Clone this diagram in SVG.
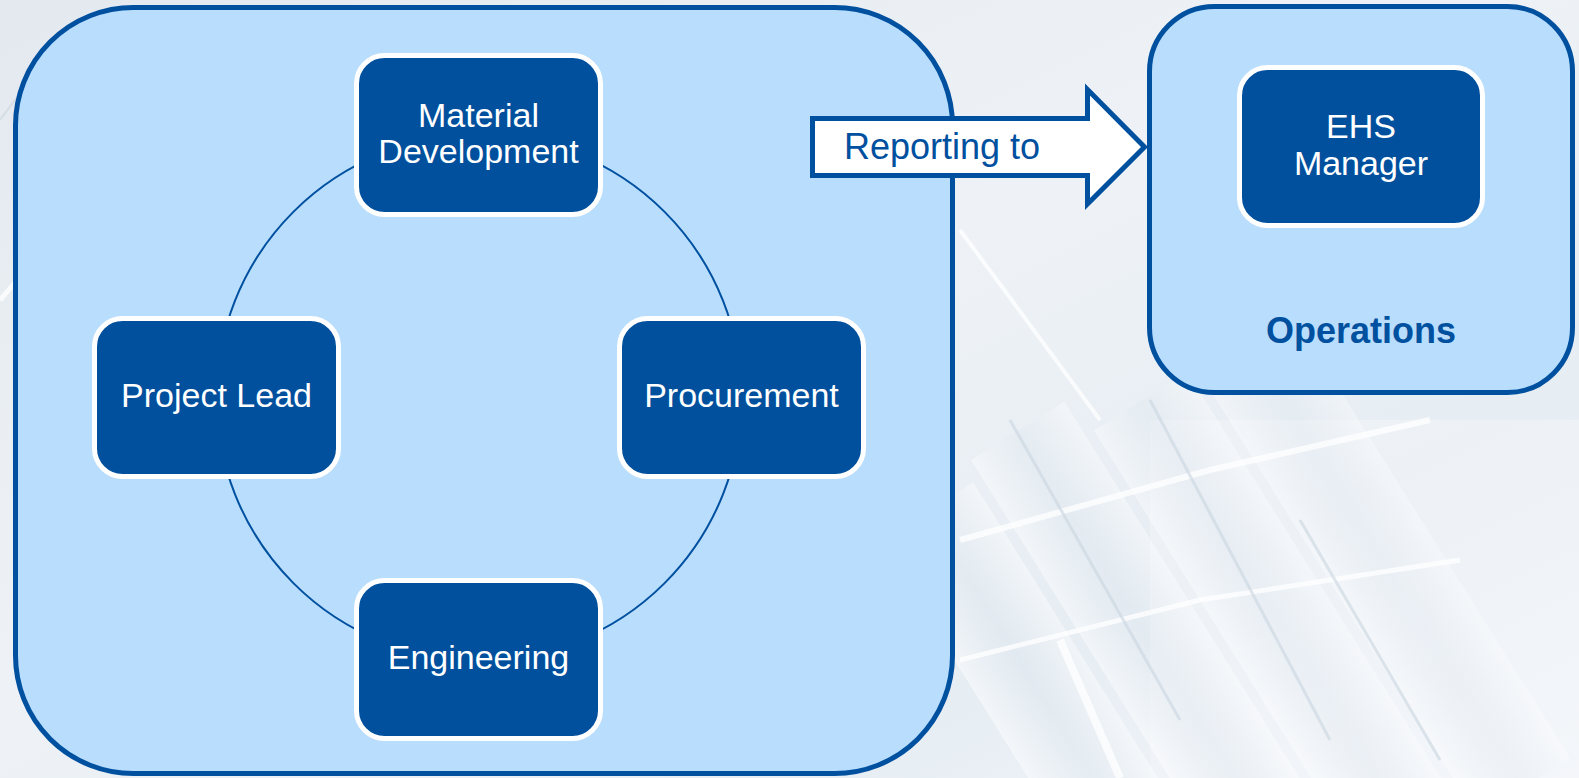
<svg xmlns="http://www.w3.org/2000/svg" width="1579" height="778" viewBox="0 0 1579 778">
  <defs>
    <linearGradient id="bg" x1="0" y1="0" x2="1" y2="1">
      <stop offset="0" stop-color="#e3e9ef"/>
      <stop offset="0.45" stop-color="#eef2f6"/>
      <stop offset="0.75" stop-color="#e6edf3"/>
      <stop offset="1" stop-color="#f4f7fa"/>
    </linearGradient>
    <linearGradient id="tube" x1="0" y1="0" x2="1" y2="0">
      <stop offset="0" stop-color="#ffffff" stop-opacity="0.9"/>
      <stop offset="0.5" stop-color="#d9e3ec" stop-opacity="0.6"/>
      <stop offset="1" stop-color="#ffffff" stop-opacity="0.8"/>
    </linearGradient>
    <style>
      .frame { fill: #b9ddfc; stroke: #0050a0; stroke-width: 5; }
      .node rect { fill: #00509e; stroke: #ffffff; stroke-width: 5; }
      .node text { fill: #ffffff; font-family: "Liberation Sans", Arial, sans-serif; font-size: 34px; text-anchor: middle; }
      .ring { fill: none; stroke: #0050a0; stroke-width: 2; }
      .arrow { fill: #ffffff; stroke: #0050a0; stroke-width: 5; stroke-linejoin: miter; }
      .label { fill: #0050a0; font-family: "Liberation Sans", Arial, sans-serif; }
      .bgline { stroke: #ffffff; stroke-opacity: 0.75; fill: none; }
      .bgdark { stroke: #c9d5e0; stroke-opacity: 0.6; fill: none; }
    </style>
  </defs>

  <!-- background (photo of glass tubes, approximated) -->
  <g id="background">
    <rect x="0" y="0" width="1579" height="778" fill="url(#bg)"/>
    <rect x="1150" y="420" width="429" height="358" fill="#f3f6f9" opacity="0.5"/>
    <g transform="rotate(-32 1200 600)">
      <rect x="960" y="380" width="110" height="520" fill="url(#tube)" opacity="0.55"/>
      <rect x="1080" y="360" width="110" height="560" fill="url(#tube)" opacity="0.5"/>
      <rect x="1200" y="400" width="110" height="520" fill="url(#tube)" opacity="0.45"/>
      <rect x="1320" y="430" width="110" height="500" fill="url(#tube)" opacity="0.4"/>
    </g>
    <path class="bgline" stroke-width="6" d="M960 540 L1210 470 L1430 420"/>
    <path class="bgline" stroke-width="5" d="M960 660 L1200 600 L1460 560"/>
    <path class="bgdark" stroke-width="3" d="M1010 420 L1180 720"/>
    <path class="bgdark" stroke-width="3" d="M1150 400 L1330 740"/>
    <path class="bgdark" stroke-width="3" d="M1300 520 L1440 760"/>
    <path class="bgline" stroke-width="8" d="M1060 640 L1120 778"/>
    <path class="bgline" stroke-width="4" d="M960 230 L1100 420"/>
    <path class="bgdark" stroke-width="2" d="M0 120 L60 40"/>
    <path class="bgline" stroke-width="5" d="M0 300 L60 230"/>
  </g>

  <!-- container frames -->
  <g id="team-frame">
    <rect class="frame" x="15.5" y="7.5" width="937" height="766" rx="118" ry="118"/>
  </g>
  <g id="operations-frame">
    <rect class="frame" x="1149.5" y="6.5" width="423" height="386" rx="65" ry="65"/>
    <text class="label" x="1361" y="343" font-size="36" font-weight="bold" text-anchor="middle">Operations</text>
  </g>

  <!-- connectors -->
  <g id="connectors">
    <circle class="ring" cx="479" cy="397.5" r="262.5"/>
    <g id="reporting-arrow">
      <path class="arrow" d="M812.5 118.5 H1087.5 V89.5 L1144.5 147 L1087.5 204 V175.5 H812.5 Z"/>
      <text class="label" x="844" y="159" font-size="36">Reporting to</text>
    </g>
  </g>

  <!-- nodes -->
  <g id="material-development" class="node">
    <rect x="356.5" y="55.5" width="244" height="159" rx="28" ry="28"/>
    <text x="478.5" y="127">Material</text>
    <text x="478.5" y="163">Development</text>
  </g>
  <g id="project-lead" class="node">
    <rect x="94.5" y="318.5" width="244" height="158" rx="28" ry="28"/>
    <text x="216.5" y="407">Project Lead</text>
  </g>
  <g id="procurement" class="node">
    <rect x="619.5" y="318.5" width="244" height="158" rx="28" ry="28"/>
    <text x="741.5" y="407">Procurement</text>
  </g>
  <g id="engineering" class="node">
    <rect x="356.5" y="580.5" width="244" height="158" rx="28" ry="28"/>
    <text x="478.5" y="669">Engineering</text>
  </g>
  <g id="ehs-manager" class="node">
    <rect x="1239.5" y="67.5" width="243" height="158" rx="28" ry="28"/>
    <text x="1361" y="138">EHS</text>
    <text x="1361" y="175">Manager</text>
  </g>
</svg>
